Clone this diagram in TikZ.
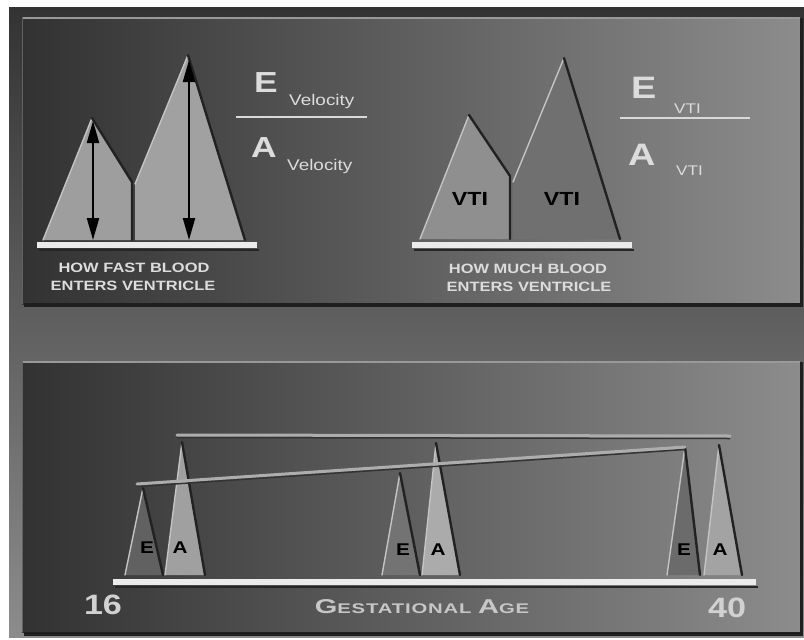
\documentclass[tikz,border=0pt]{standalone}
\usepackage{fontspec}
\setmainfont{Liberation Sans}
\newfontfamily\widefont[FakeStretch=1.22]{Liberation Sans}
\newfontfamily\gafont[FakeStretch=1.45,LetterSpace=6]{Liberation Sans}
\usetikzlibrary{arrows.meta}
\definecolor{frametop}{HTML}{333333}
\definecolor{framebot}{HTML}{8C8C8C}
\definecolor{pandark}{HTML}{323232}
\definecolor{panlight}{HTML}{8C8C8C}
\definecolor{hilite}{HTML}{C4C4C4}
\definecolor{shade}{HTML}{222222}
\definecolor{labtxt}{HTML}{DCDCDC}
\definecolor{peakA}{HTML}{A0A0A0}
\tikzset{
  panelshade/.style={left color=pandark, right color=panlight},
  toplite/.style={draw=black!40, line width=2pt},
  sidelite/.style={draw=black!62, line width=1.5pt},
  dropshade/.style={draw=black!88, line width=4pt},
  hiedge/.style={draw=hilite, line width=1.4pt, line cap=round},
  shedge/.style={draw=shade, line width=2.4pt, line cap=round},
  basebar/.style={draw=black!8, line width=5.5pt},
  barshadow/.style={draw=black!85, line width=2pt},
  vline/.style={draw=black, line width=2.2pt, {Triangle[length=22pt,width=12pt]}-{Triangle[length=22pt,width=12pt]}},
  fracbar/.style={draw=black!15, line width=2.4pt},
  peakline/.style={draw=black!32, line width=3pt, line cap=round},
  peakshadow/.style={draw=black!80, line width=1.5pt},
  bigletter/.style={inner sep=0pt, anchor=base west, text=labtxt, font=\widefont\bfseries\fontsize{29}{29}\selectfont},
  subtext/.style={inner sep=0pt, anchor=base west, text=labtxt, font=\widefont\fontsize{15.5}{15.5}\selectfont},
  caption/.style={inner sep=0pt, text=labtxt, font=\widefont\bfseries\fontsize{13.5}{14}\selectfont},
  inlabel/.style={inner sep=0pt, text=black, font=\widefont\bfseries\fontsize{19}{19}\selectfont},
  ealabel/.style={inner sep=0pt, text=black, font=\widefont\bfseries\fontsize{17}{17}\selectfont},
  agelabel/.style={inner sep=0pt, text=black!18, font=\widefont\bfseries\fontsize{28}{28}\selectfont},
}
\begin{document}
\begin{tikzpicture}[x=1pt,y=-1pt]
\useasboundingbox (0,0) rectangle (804,640);
\fill[white] (0,0) rectangle (804,640);
% outer frame
\shade[top color=frametop, bottom color=framebot] (9,7) rectangle (804,637);
% top panel
\shade[panelshade] (22,17) rectangle (800,304);
\draw[dropshade] (24,305) -- (803,305);
\draw[draw=black!88, line width=3pt] (801.5,18) -- (801.5,305);
\draw[toplite] (22,17.5) -- (800,17.5);
\draw[sidelite] (22.5,17) -- (22.5,304);
% bottom panel
\shade[panelshade] (22,361) rectangle (800,632);
\draw[dropshade] (24,634) -- (803,634);
\draw[draw=black!88, line width=3pt] (801.5,362) -- (801.5,634);
\draw[toplite] (22,361.5) -- (800,361.5);
\draw[sidelite] (22.5,361) -- (22.5,632);

% ---------- top left: velocity ----------
\fill[black!38] (43,240) -- (92,118) -- (132,182) -- (132,240) -- cycle;
\draw[hiedge] (43,240) -- (92,118);
\draw[shedge] (92,118) -- (132,182) -- (132,240);
\fill[black!37] (135,240) -- (135,184) -- (188,55) -- (245,240) -- cycle;
\draw[hiedge] (135,184) -- (188,55);
\draw[shedge] (188,55) -- (245,240);
\draw[barshadow] (39,249.5) -- (259,249.5);
\draw[basebar] (37,245) -- (257,245);
\coordinate (eTop) at (93,121);
\coordinate (eBot) at (93,240);
\coordinate (aTop) at (189,60);
\coordinate (aBot) at (189,240);
\draw[vline] (eTop) -- (eBot);
\draw[vline] (aTop) -- (aBot);
\node[bigletter] (eVel) at (254,92) {E};
\node[subtext] (eVelSub) at (289,105) {Velocity};
\coordinate (fbl1) at (236,117);
\coordinate (fbr1) at (367,117);
\draw[fracbar] (fbl1) -- (fbr1);
\node[bigletter] (aVel) at (251,157) {A};
\node[subtext] (aVelSub) at (287,170) {Velocity};
\node[caption] (capFast1) at (134,268) {HOW FAST BLOOD};
\node[caption] (capFast2) at (133,286) {ENTERS VENTRICLE};

% ---------- top right: VTI ----------
\fill[black!44] (420,239) -- (469,115) -- (510,176) -- (510,239) -- cycle;
\draw[hiedge] (420,239) -- (469,115);
\draw[shedge] (469,115) -- (510,176) -- (510,239);
\fill[black!56] (513,239) -- (513,182) -- (564,58) -- (620,239) -- cycle;
\draw[hiedge] (513,182) -- (564,58);
\draw[shedge] (564,58) -- (620,239);
\draw[barshadow] (414,249.5) -- (634,249.5);
\draw[basebar] (412,245) -- (632,245);
\node[inlabel] (vtiL) at (470,199) {VTI};
\node[inlabel] (vtiR) at (562,199) {VTI};
\node[bigletter, font=\widefont\bfseries\fontsize{31}{31}\selectfont] (eVti) at (631,98) {E};
\node[subtext, font=\widefont\fontsize{14}{14}\selectfont] (eVtiSub) at (674,113) {VTI};
\coordinate (fbl2) at (620,118);
\coordinate (fbr2) at (750,118);
\draw[fracbar] (fbl2) -- (fbr2);
\node[bigletter, font=\widefont\bfseries\fontsize{31}{31}\selectfont] (aVti) at (628,165) {A};
\node[subtext, font=\widefont\fontsize{14}{14}\selectfont] (aVtiSub) at (676,175) {VTI};
\node[caption] (capMuch1) at (528,269) {HOW MUCH BLOOD};
\node[caption] (capMuch2) at (529,287) {ENTERS VENTRICLE};

% ---------- bottom: gestational age ----------
% group 16
\fill[black!62] (125,575) -- (143,488) -- (163,575) -- cycle;
\draw[hiedge] (125,575) -- (143,488);
\draw[shedge] (143,488) -- (163,575);
\fill[peakA] (165,575) -- (182,442) -- (205,575) -- cycle;
\draw[hiedge] (165,575) -- (182,442);
\draw[shedge] (182,442) -- (205,575);
% middle group
\fill[black!55] (382,575) -- (400,473) -- (420,575) -- cycle;
\draw[hiedge] (382,575) -- (400,473);
\draw[shedge] (400,473) -- (420,575);
\fill[black!33] (422,575) -- (436,443) -- (460,575) -- cycle;
\draw[hiedge] (422,575) -- (436,443);
\draw[shedge] (436,443) -- (460,575);
% group 40
\fill[black!58] (667,575) -- (685,447) -- (700,575) -- cycle;
\draw[hiedge] (667,575) -- (685,447);
\draw[shedge] (685,447) -- (700,575);
\fill[black!36] (704,575) -- (719,445) -- (742,575) -- cycle;
\draw[hiedge] (704,575) -- (719,445);
\draw[shedge] (719,445) -- (742,575);
% peak lines
\coordinate (hl) at (177,435);
\coordinate (hr) at (730,436);
\coordinate (sl) at (137,484);
\coordinate (sr) at (685,447);
\draw[peakshadow] ([yshift=-2.5pt]hl) -- ([yshift=-2.5pt]hr);
\draw[peakline] (hl) -- (hr);
\draw[peakshadow] ([yshift=-2.5pt]sl) -- ([yshift=-2.5pt]sr);
\draw[peakline] (sl) -- (sr);
\node[ealabel] (e16) at (147,548) {E};
\node[ealabel] (a16) at (180,548) {A};
\node[ealabel] (eMid) at (403,550) {E};
\node[ealabel] (aMid) at (438,550) {A};
\node[ealabel] (e40) at (684,550) {E};
\node[ealabel] (a40) at (720,550) {A};
\draw[barshadow] (115,587) -- (758,587);
\draw[basebar] (113,582) -- (756,582);
\node[agelabel] (w16) at (103,605) {16};
\node[agelabel] (w40) at (727,608) {40};
\node[inner sep=0pt, text=black!22, font=\gafont\bfseries\fontsize{14}{14}\selectfont] (gest) at (422,607)
  {{\fontsize{20}{20}\selectfont G}ESTATIONAL {\fontsize{20}{20}\selectfont A}GE};
\end{tikzpicture}
\end{document}
